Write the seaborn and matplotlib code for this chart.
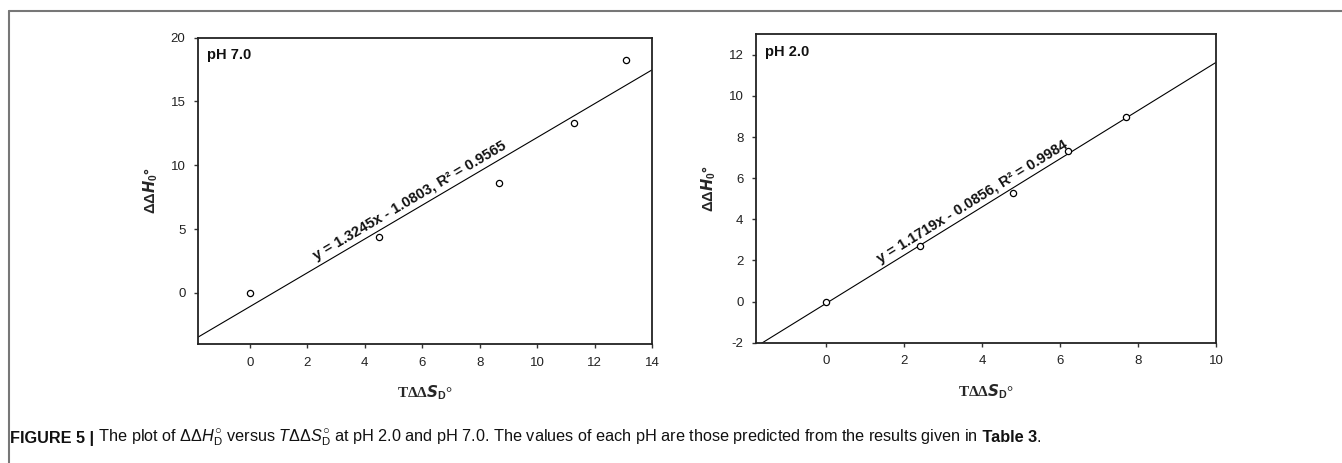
import numpy as np
import pandas as pd
import seaborn as sns
import matplotlib.pyplot as plt
from matplotlib.lines import Line2D

# data
x_ph7 = [0.0, 4.5, 8.67, 11.27, 13.1]
y_ph7 = [0.0, 4.35, 8.63, 13.33, 18.25]
slope_ph7, icpt_ph7, r2_ph7 = 1.3245, -1.0803, 0.9565

x_ph2 = [0.0, 2.4, 4.79, 6.2, 7.69]
y_ph2 = [0.0, 2.72, 5.3, 7.3, 8.98]
slope_ph2, icpt_ph2, r2_ph2 = 1.1719, -0.0856, 0.9984

xlim_ph7, ylim_ph7 = (-1.8, 14), (-4, 20)
xlim_ph2, ylim_ph2 = (-1.8, 10), (-2, 13)
xticks_ph7 = [0, 2, 4, 6, 8, 10, 12, 14]
yticks_ph7 = [0, 5, 10, 15, 20]
xticks_ph2 = [0, 2, 4, 6, 8, 10]
yticks_ph2 = [-2, 0, 2, 4, 6, 8, 10, 12]

sns.set_theme(style="ticks")
plt.rcParams['font.family'] = ['Liberation Sans', 'DejaVu Sans']
plt.rcParams['mathtext.fontset'] = 'custom'
plt.rcParams['mathtext.rm'] = 'Liberation Sans'
plt.rcParams['mathtext.it'] = 'Liberation Sans:italic'
plt.rcParams['mathtext.bf'] = 'Liberation Sans:bold'
plt.rcParams['axes.unicode_minus'] = False

fig = plt.figure(figsize=(13.42, 4.63), dpi=100)
W, H = 1342, 463


def panel(rect, xs, ys, slope, icpt, r2, xlim, ylim, xticks, yticks, tag, txt_x, txt_dy):
    ax = fig.add_axes(rect)
    df = pd.DataFrame({"x": xs, "y": ys})
    xx = np.array(xlim)
    fit = pd.DataFrame({"x": xx, "y": slope * xx + icpt})
    sns.lineplot(data=fit, x="x", y="y", ax=ax, color="black", lw=0.8)
    sns.scatterplot(data=df, x="x", y="y", ax=ax, marker="o", s=20,
                    facecolor="white", edgecolor="black", linewidth=0.9, zorder=3)
    ax.set_xlim(xlim)
    ax.set_ylim(ylim)
    ax.set_xticks(xticks)
    ax.set_yticks(yticks)
    ax.tick_params(labelsize=9.5, length=3, width=1, color="#333333", labelcolor="#222222", pad=6)
    for s in ax.spines.values():
        s.set_linewidth(1.3)
        s.set_color("#222222")
    ax.set_xlabel(r"TΔΔ$\mathbfit{S}_{\mathbf{D}}$°", fontsize=11, fontweight="bold",
                  family=["Liberation Serif", "DejaVu Serif"], labelpad=11)
    ax.set_ylabel(r"ΔΔ$\mathbfit{H}_{\mathbf{0}}$°", fontsize=10.5, fontweight="bold",
                  labelpad=8)
    ax.text(0.02, 0.965, tag, transform=ax.transAxes, fontsize=10.5, fontweight="bold",
            va="top", ha="left", color="#111111")
    # rotate label along fitted line in screen space
    p0 = ax.transData.transform((xlim[0], slope * xlim[0] + icpt))
    p1 = ax.transData.transform((xlim[1], slope * xlim[1] + icpt))
    ang = np.degrees(np.arctan2(p1[1] - p0[1], p1[0] - p0[0]))
    label = "y = %.4fx - %.4f, R² = %.4f" % (slope, -icpt, r2)
    ax.text(txt_x, slope * txt_x + icpt + txt_dy, label, rotation=ang, rotation_mode="anchor",
            ha="center", va="bottom", fontsize=10.5, fontweight="bold", color="#111111")
    return ax


panel([198 / W, 1 - 344 / H, 454 / W, 306.5 / H], x_ph7, y_ph7, slope_ph7, icpt_ph7, r2_ph7,
      xlim_ph7, ylim_ph7, xticks_ph7, yticks_ph7, "pH 7.0", 5.7, 0.3)
panel([756 / W, 1 - 342.7 / H, 460 / W, 308.4 / H], x_ph2, y_ph2, slope_ph2, icpt_ph2, r2_ph2,
      xlim_ph2, ylim_ph2, xticks_ph2, yticks_ph2, "pH 2.0", 3.85, 0.15)

# outer frame (top and left)
fig.add_artist(Line2D([9 / W, 1.0], [1 - 11 / H, 1 - 11 / H], transform=fig.transFigure,
                      color="#777777", lw=1.5))
fig.add_artist(Line2D([9 / W, 9 / W], [0, 1 - 11 / H], transform=fig.transFigure,
                      color="#777777", lw=1.5))

# caption made of pieces
cap_font = ['Liberation Sans Narrow', 'Liberation Sans', 'DejaVu Sans']
pieces = [
    ("FIGURE 5 |", "bold"),
    (r" The plot of $\Delta\Delta \mathit{H}_{\mathrm{D}}^{\bigcirc}$ versus $\mathit{T}\Delta\Delta \mathit{S}_{\mathrm{D}}^{\bigcirc}$ at pH 2.0 and pH 7.0. The values of each pH are those predicted from the results given in", "normal"),
    (" Table 3", "bold"),
    (".", "normal"),
]
renderer = fig.canvas.get_renderer()
xpos = 10 / W
for txt, wt in pieces:
    t = fig.text(xpos, 1 - 438 / H, txt, fontsize=11.7, fontweight=wt, family=cap_font,
                 va="center", ha="left", color="#111111")
    bb = t.get_window_extent(renderer=renderer)
    xpos = bb.x1 / W

fig.savefig("out.png", dpi=100)
